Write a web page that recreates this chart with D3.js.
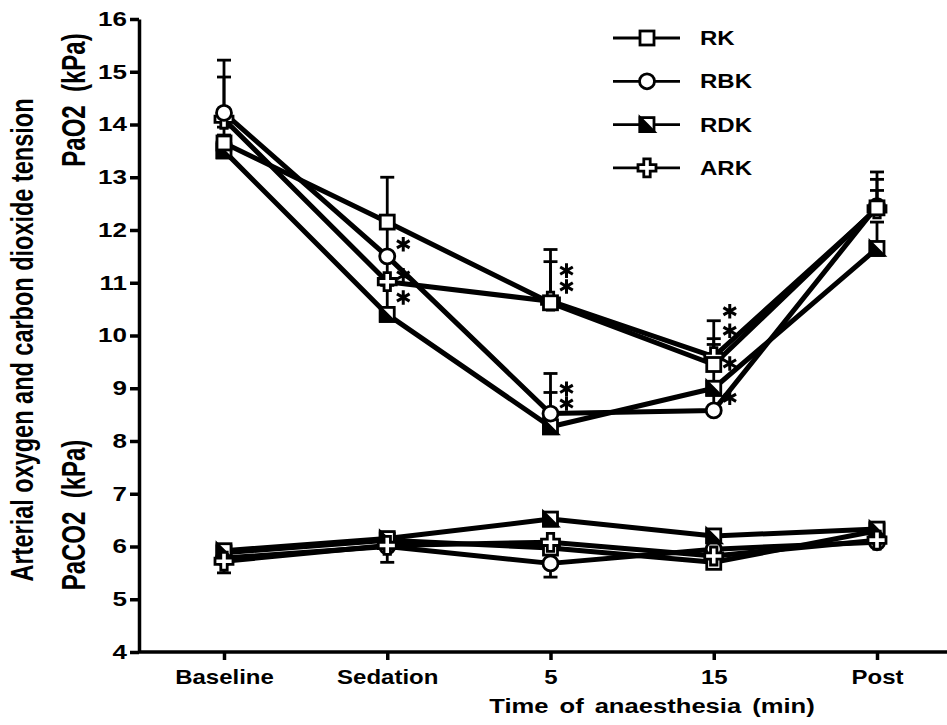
<!DOCTYPE html>
<html>
<head>
<meta charset="utf-8">
<script src="https://cdn.jsdelivr.net/npm/d3@7"></script>
<style>
body{margin:0;background:#fff;font-family:"Liberation Sans",Arial,sans-serif;}
.axis path,.axis line{stroke:#000;stroke-width:3.5;}
.axis text{font-size:20px;font-weight:bold;fill:#000;font-family:"Liberation Sans",Arial,sans-serif;}
.series{fill:none;stroke:#000;stroke-width:5;stroke-linejoin:round;}
.err{stroke:#000;stroke-width:2.8;}
.mk{stroke:#000;stroke-width:2.8;fill:#fff;}
.lab{font-weight:bold;fill:#000;}
</style>
</head>
<body>
<svg id="chart" width="947" height="725"></svg>
<script>

var categories = ["Baseline", "Sedation", "5", "15", "Post"];
var seriesNames = ["RK", "RBK", "RDK", "ARK"];
var yTicks = [4, 5, 6, 7, 8, 9, 10, 11, 12, 13, 14, 15, 16];

// PaO2 (kPa), means and top of SD bar
var pao2RK  = [13.65, 12.15, 10.62, 9.45, 12.42];
var pao2RBK = [14.22, 11.50, 8.52, 8.58, 12.45];
var pao2RDK = [13.50, 10.40, 8.27, 9.00, 11.65];
var pao2ARK = [14.10, 11.02, 10.65, 9.60, 12.40];
var pao2TopRK  = [13.95, 13.00, 11.63, 10.28, 13.10];
var pao2TopRBK = [15.22, 12.05, 9.28, 8.95, 12.96];
var pao2TopRDK = [13.80, 10.95, 8.92, 9.83, 12.15];
var pao2TopARK = [14.90, 11.50, 11.40, 9.94, 12.75];

// PaCO2 (kPa), means and bottom of SD bar
var paco2RK  = [5.88, 6.12, 5.97, 5.70, 6.30];
var paco2RBK = [5.78, 6.00, 5.68, 5.95, 6.08];
var paco2RDK = [5.92, 6.15, 6.52, 6.20, 6.33];
var paco2ARK = [5.72, 6.02, 6.08, 5.82, 6.12];
var paco2LowRK  = [null, null, null, null, null];
var paco2LowRBK = [null, null, 5.42, null, null];
var paco2LowRDK = [null, null, null, null, null];
var paco2LowARK = [5.50, 5.70, null, null, null];

// significance asterisks
var starCats   = ["Sedation", "Sedation", "Sedation", "5", "5", "5", "5", "15", "15", "15", "15"];
var starValues = [11.73, 11.14, 10.72, 11.23, 10.93, 8.99, 8.71, 10.46, 10.09, 9.47, 8.82];

var svg = d3.select("#chart");

var x = d3.scalePoint().domain(categories).range([224, 877]);
var y = d3.scaleLinear().domain([4, 16]).range([652, 19]);

var series = [
  {name: "RK",  shape: "square", o2: pao2RK,  o2e: pao2TopRK,  co2: paco2RK,  co2e: paco2LowRK},
  {name: "RBK", shape: "circle", o2: pao2RBK, o2e: pao2TopRBK, co2: paco2RBK, co2e: paco2LowRBK},
  {name: "RDK", shape: "half",   o2: pao2RDK, o2e: pao2TopRDK, co2: paco2RDK, co2e: paco2LowRDK},
  {name: "ARK", shape: "plus",   o2: pao2ARK, o2e: pao2TopARK, co2: paco2ARK, co2e: paco2LowARK}
];

// axes
var xAxis = svg.append("g").attr("class", "axis")
  .attr("transform", "translate(0," + y(4) + ")")
  .call(d3.axisBottom(x).tickSize(8).tickSizeOuter(0).tickPadding(10));
xAxis.select(".domain").attr("d", "M" + 139 + ",0H947");
xAxis.selectAll(".tick text").attr("font-size", 20)
  .each(function(){
    var t = d3.select(this);
    t.attr("transform", "translate(0," + (+t.attr("y")) + ") scale(1.2,1)").attr("y", 0);
  });

var yAxis = svg.append("g").attr("class", "axis")
  .attr("transform", "translate(139,0)")
  .call(d3.axisLeft(y).tickValues(yTicks).tickSize(9).tickSizeOuter(0).tickFormat(d3.format("d")));
yAxis.selectAll(".tick text")
  .attr("x", 0)
  .attr("transform", "translate(-12,0) scale(1.3,1)");

// lines
var line = d3.line().x(function(d, i){ return x(categories[i]); }).y(function(d){ return y(d); });
series.forEach(function(s){
  svg.append("path").attr("class", "series").attr("d", line(s.o2));
  svg.append("path").attr("class", "series").attr("d", line(s.co2));
});

// error bars
function drawErr(vals, ends){
  ends.forEach(function(e, i){
    if (e == null) return;
    var cx = x(categories[i]);
    svg.append("line").attr("class", "err")
      .attr("x1", cx).attr("x2", cx).attr("y1", y(vals[i])).attr("y2", y(e));
    svg.append("line").attr("class", "err")
      .attr("x1", cx - 7).attr("x2", cx + 7).attr("y1", y(e)).attr("y2", y(e));
  });
}
series.forEach(function(s){
  drawErr(s.o2, s.o2e);
  drawErr(s.co2, s.co2e);
});

// markers
function marker(g, shape){
  if (shape === "square") {
    g.append("rect").attr("class", "mk").attr("x", -7).attr("y", -7).attr("width", 14).attr("height", 14);
  } else if (shape === "circle") {
    g.append("circle").attr("class", "mk").attr("r", 7.5);
  } else if (shape === "half") {
    g.append("rect").attr("class", "mk").attr("x", -7).attr("y", -7).attr("width", 14).attr("height", 14);
    g.append("path").attr("d", "M-7,-7L7,7L-7,7Z").attr("fill", "#000").attr("stroke", "#000").attr("stroke-width", 2.8);
  } else {
    var a = 3.2, h = 9;
    g.append("path").attr("class", "mk")
      .attr("d", "M" + -a + "," + -h + "H" + a + "V" + -a + "H" + h + "V" + a + "H" + a + "V" + h +
                 "H" + -a + "V" + a + "H" + -h + "V" + -a + "H" + -a + "Z");
  }
}
function drawMarkers(key, order){
  order.forEach(function(k){
    var s = series[k];
    s[key].forEach(function(v, j){
      var g = svg.append("g").attr("transform", "translate(" + x(categories[j]) + "," + y(v) + ")");
      marker(g, s.shape);
    });
  });
}
drawMarkers("o2", [2, 3, 1, 0]);
drawMarkers("co2", [1, 0, 2, 3]);

// asterisks
svg.selectAll(".star").data(starValues).enter().append("path")
  .attr("class", "star")
  .attr("d", d3.symbol().type(d3.symbolAsterisk).size(150))
  .attr("transform", function(d, i){ return "translate(" + (x(starCats[i]) + 16) + "," + y(d) + ")"; })
  .attr("fill", "none").attr("stroke", "#000").attr("stroke-width", 3);

// legend
var legend = svg.append("g").attr("transform", "translate(613,38)");
seriesNames.forEach(function(n, i){
  var row = legend.append("g").attr("transform", "translate(0," + i * 43.3 + ")");
  row.append("line").attr("x1", 0).attr("x2", 67).attr("stroke", "#000").attr("stroke-width", 2.8);
  var mg = row.append("g").attr("transform", "translate(34,0)");
  marker(mg, series[i].shape);
  row.append("text").attr("class", "lab").attr("font-size", 20)
    .attr("transform", "translate(87,7) scale(1.2,1)").text(n);
});

// titles
svg.append("text").attr("class", "lab").attr("font-size", 20)
  .attr("text-anchor", "middle").attr("word-spacing", 3)
  .attr("transform", "translate(652,713) scale(1.28,1)")
  .text("Time of anaesthesia (min)");

svg.append("text").attr("class", "lab").attr("font-size", 23.5)
  .attr("text-anchor", "middle")
  .attr("transform", "translate(33,340) rotate(-90) scale(1,1.35)")
  .text("Arterial oxygen and carbon dioxide tension");

svg.append("text").attr("class", "lab").attr("font-size", 24)
  .attr("text-anchor", "middle").attr("xml:space", "preserve")
  .attr("transform", "translate(85,100) rotate(-90) scale(1,1.35)")
  .text("PaO2  (kPa)");

svg.append("text").attr("class", "lab").attr("font-size", 24)
  .attr("text-anchor", "middle").attr("xml:space", "preserve")
  .attr("transform", "translate(85,515) rotate(-90) scale(1,1.35)")
  .text("PaCO2  (kPa)");

</script>
</body>
</html>
